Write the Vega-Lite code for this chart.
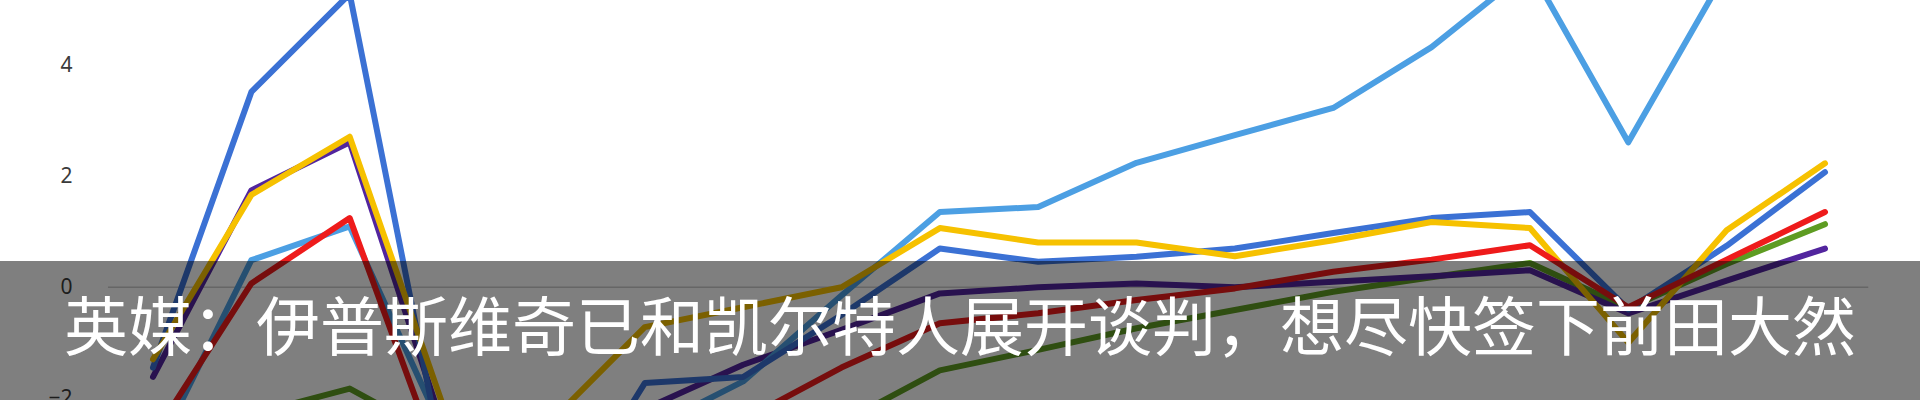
{
  "$schema": "https://vega.github.io/schema/vega-lite/v6.json",
  "width": 1920,
  "height": 400,
  "autosize": "none",
  "padding": 0,
  "background": "white",
  "config": {
    "view": {"stroke": null},
    "axisX": {"disable": true},
    "axisY": {"grid": false, "domain": false, "ticks": false, "tickSize": 0, "labelPadding": 0, "offset": -72, "labelFontSize": 21, "labelColor": "#3a3a3a", "labelFont": "Noto Sans", "labelBound": false, "labelFlush": false}
  },
  "datasets": {
    "zero": [{"x1": -0.458, "x2": 17.44, "y": 0}],
    "series": [
      {"s": "green", "i": 0, "v": -2.6}, {"s": "green", "i": 1, "v": -2.3}, {"s": "green", "i": 2, "v": -1.83}, {"s": "green", "i": 3, "v": -2.8}, {"s": "green", "i": 4, "v": -3.0}, {"s": "green", "i": 5, "v": -3.0}, {"s": "green", "i": 6, "v": -2.9}, {"s": "green", "i": 7, "v": -2.45}, {"s": "green", "i": 8, "v": -1.5}, {"s": "green", "i": 9, "v": -1.13}, {"s": "green", "i": 10, "v": -0.74}, {"s": "green", "i": 11, "v": -0.41}, {"s": "green", "i": 12, "v": -0.08}, {"s": "green", "i": 13, "v": 0.18}, {"s": "green", "i": 14, "v": 0.44}, {"s": "green", "i": 15, "v": -0.38}, {"s": "green", "i": 16, "v": 0.42}, {"s": "green", "i": 17, "v": 1.14},
      {"s": "purple", "i": 0, "v": -1.62}, {"s": "purple", "i": 1, "v": 1.75}, {"s": "purple", "i": 2, "v": 2.62}, {"s": "purple", "i": 3, "v": -2.8}, {"s": "purple", "i": 4, "v": -3.0}, {"s": "purple", "i": 5, "v": -2.2}, {"s": "purple", "i": 6, "v": -1.4}, {"s": "purple", "i": 7, "v": -0.77}, {"s": "purple", "i": 8, "v": -0.11}, {"s": "purple", "i": 9, "v": 0.0}, {"s": "purple", "i": 10, "v": 0.07}, {"s": "purple", "i": 11, "v": 0.0}, {"s": "purple", "i": 12, "v": 0.1}, {"s": "purple", "i": 13, "v": 0.2}, {"s": "purple", "i": 14, "v": 0.31}, {"s": "purple", "i": 15, "v": -0.47}, {"s": "purple", "i": 16, "v": 0.12}, {"s": "purple", "i": 17, "v": 0.7},
      {"s": "lightblue", "i": 0, "v": -3.1}, {"s": "lightblue", "i": 1, "v": 0.49}, {"s": "lightblue", "i": 2, "v": 1.1}, {"s": "lightblue", "i": 3, "v": -2.8}, {"s": "lightblue", "i": 4, "v": -3.2}, {"s": "lightblue", "i": 5, "v": -2.6}, {"s": "lightblue", "i": 6, "v": -1.7}, {"s": "lightblue", "i": 7, "v": -0.15}, {"s": "lightblue", "i": 8, "v": 1.36}, {"s": "lightblue", "i": 9, "v": 1.45}, {"s": "lightblue", "i": 10, "v": 2.25}, {"s": "lightblue", "i": 11, "v": 2.75}, {"s": "lightblue", "i": 12, "v": 3.24}, {"s": "lightblue", "i": 13, "v": 4.34}, {"s": "lightblue", "i": 14, "v": 5.76}, {"s": "lightblue", "i": 15, "v": 2.62}, {"s": "lightblue", "i": 16, "v": 5.72}, {"s": "lightblue", "i": 17, "v": 6.2},
      {"s": "darkblue", "i": 0, "v": -1.45}, {"s": "darkblue", "i": 1, "v": 3.53}, {"s": "darkblue", "i": 2, "v": 5.3}, {"s": "darkblue", "i": 3, "v": -3.6}, {"s": "darkblue", "i": 4, "v": -4.6}, {"s": "darkblue", "i": 5, "v": -1.73}, {"s": "darkblue", "i": 6, "v": -1.62}, {"s": "darkblue", "i": 7, "v": -0.5}, {"s": "darkblue", "i": 8, "v": 0.7}, {"s": "darkblue", "i": 9, "v": 0.46}, {"s": "darkblue", "i": 10, "v": 0.55}, {"s": "darkblue", "i": 11, "v": 0.7}, {"s": "darkblue", "i": 12, "v": 0.98}, {"s": "darkblue", "i": 13, "v": 1.25}, {"s": "darkblue", "i": 14, "v": 1.36}, {"s": "darkblue", "i": 15, "v": -0.4}, {"s": "darkblue", "i": 16, "v": 0.75}, {"s": "darkblue", "i": 17, "v": 2.08},
      {"s": "yellow", "i": 0, "v": -1.3}, {"s": "yellow", "i": 1, "v": 1.67}, {"s": "yellow", "i": 2, "v": 2.72}, {"s": "yellow", "i": 3, "v": -2.4}, {"s": "yellow", "i": 4, "v": -2.5}, {"s": "yellow", "i": 5, "v": -0.72}, {"s": "yellow", "i": 6, "v": -0.36}, {"s": "yellow", "i": 7, "v": 0.0}, {"s": "yellow", "i": 8, "v": 1.07}, {"s": "yellow", "i": 9, "v": 0.81}, {"s": "yellow", "i": 10, "v": 0.81}, {"s": "yellow", "i": 11, "v": 0.56}, {"s": "yellow", "i": 12, "v": 0.85}, {"s": "yellow", "i": 13, "v": 1.18}, {"s": "yellow", "i": 14, "v": 1.07}, {"s": "yellow", "i": 15, "v": -1.0}, {"s": "yellow", "i": 16, "v": 1.03}, {"s": "yellow", "i": 17, "v": 2.24},
      {"s": "red", "i": 0, "v": -2.7}, {"s": "red", "i": 1, "v": 0.07}, {"s": "red", "i": 2, "v": 1.25}, {"s": "red", "i": 3, "v": -3.6}, {"s": "red", "i": 4, "v": -3.5}, {"s": "red", "i": 5, "v": -3.0}, {"s": "red", "i": 6, "v": -2.4}, {"s": "red", "i": 7, "v": -1.45}, {"s": "red", "i": 8, "v": -0.65}, {"s": "red", "i": 9, "v": -0.47}, {"s": "red", "i": 10, "v": -0.23}, {"s": "red", "i": 11, "v": -0.02}, {"s": "red", "i": 12, "v": 0.28}, {"s": "red", "i": 13, "v": 0.5}, {"s": "red", "i": 14, "v": 0.76}, {"s": "red", "i": 15, "v": -0.36}, {"s": "red", "i": 16, "v": 0.5}, {"s": "red", "i": 17, "v": 1.36}
    ],
    "banner": [{"x1": -3, "x2": 20, "y1": -3, "y2": 0.475}],
    "caption": [{"t": "英媒：伊普斯维奇已和凯尔特人展开谈判，想尽快签下前田大然", "x": 8.205, "y": -0.79}]
  },
  "layer": [
    {
      "data": {"name": "zero"},
      "mark": {"type": "rule", "color": "#cccccc", "strokeWidth": 1.5},
      "encoding": {
        "x": {"field": "x1", "type": "quantitative", "scale": {"domain": [-1.5557, 17.966], "nice": false, "zero": false}},
        "x2": {"field": "x2"},
        "y": {"field": "y", "type": "quantitative", "scale": {"domain": [-2.0361, 5.1906], "nice": false, "zero": false}, "axis": {"values": [-2, 0, 2, 4], "title": null}}
      }
    },
    {
      "data": {"name": "series"},
      "mark": {"type": "line", "strokeWidth": 6, "clip": true, "strokeJoin": "round", "strokeCap": "round"},
      "encoding": {
        "x": {"field": "i", "type": "quantitative", "scale": {"domain": [-1.5557, 17.966], "nice": false, "zero": false}},
        "y": {"field": "v", "type": "quantitative", "scale": {"domain": [-2.0361, 5.1906], "nice": false, "zero": false}, "axis": {"values": [-2, 0, 2, 4], "title": null}},
        "color": {"field": "s", "type": "nominal", "legend": null, "scale": {"domain": ["green", "purple", "lightblue", "darkblue", "yellow", "red"], "range": ["#5e9c22", "#52259e", "#4c9fe3", "#3b71d4", "#f6c100", "#ee1b1b"]}}
      }
    },
    {
      "data": {"name": "banner"},
      "mark": {"type": "rect", "color": "#000000", "opacity": 0.5, "clip": true},
      "encoding": {
        "x": {"field": "x1", "type": "quantitative", "scale": {"domain": [-1.5557, 17.966], "nice": false, "zero": false}},
        "x2": {"field": "x2"},
        "y": {"field": "y1", "type": "quantitative", "scale": {"domain": [-2.0361, 5.1906], "nice": false, "zero": false}, "axis": {"values": [-2, 0, 2, 4], "title": null}},
        "y2": {"field": "y2"}
      }
    },
    {
      "data": {"name": "caption"},
      "mark": {"type": "text", "color": "#ffffff", "font": "Noto Sans CJK SC", "fontSize": 64, "align": "center", "baseline": "middle"},
      "encoding": {
        "x": {"field": "x", "type": "quantitative", "scale": {"domain": [-1.5557, 17.966], "nice": false, "zero": false}},
        "y": {"field": "y", "type": "quantitative", "scale": {"domain": [-2.0361, 5.1906], "nice": false, "zero": false}, "axis": {"values": [-2, 0, 2, 4], "title": null}},
        "text": {"field": "t"}
      }
    }
  ]
}
